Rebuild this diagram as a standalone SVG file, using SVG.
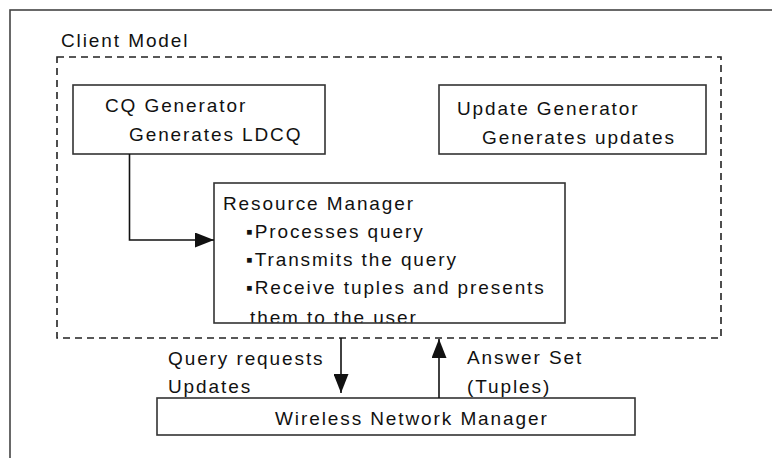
<svg xmlns="http://www.w3.org/2000/svg" width="772" height="458" viewBox="0 0 772 458">
<style>
text{font-family:"Liberation Sans",Arial,sans-serif;font-size:19px;letter-spacing:1.9px;fill:#111}
.box{fill:#fff;stroke:#333;stroke-width:1.6}
.conn{fill:none;stroke:#111;stroke-width:1.6}
</style>
<defs>
<marker id="ah" markerUnits="userSpaceOnUse" markerWidth="19" markerHeight="15" refX="19" refY="7.5" orient="auto">
<path d="M0,0 L19,7.5 L0,15 Z" fill="#111"/>
</marker>
<clipPath id="rmclip"><rect x="214" y="183" width="351" height="139.5"/></clipPath>
</defs>
<rect width="772" height="458" fill="#fff"/>
<rect x="10" y="10" width="800" height="500" fill="none" stroke="#444" stroke-width="1.6"/>
<g id="client-model">
<rect x="57" y="57" width="664" height="281" fill="none" stroke="#222" stroke-width="1.6" stroke-dasharray="7 5"/>
<text x="61" y="47">Client Model</text>
</g>
<g id="cq-generator">
<rect class="box" x="73" y="85" width="252" height="69"/>
<text x="105" y="112">CQ Generator</text>
<text x="129" y="141">Generates LDCQ</text>
</g>
<g id="update-generator">
<rect class="box" x="439" y="85" width="267" height="69"/>
<text x="457" y="115">Update Generator</text>
<text x="482" y="144">Generates updates</text>
</g>
<g id="resource-manager">
<rect class="box" x="214" y="183" width="351" height="140"/>
<g clip-path="url(#rmclip)">
<text x="223" y="210">Resource Manager</text>
<text x="246" y="238">▪Processes query</text>
<text x="246" y="266">▪Transmits the query</text>
<text x="246" y="294">▪Receive tuples and presents</text>
<text x="250" y="324">them to the user</text>
</g>
</g>
<g id="wireless-network-manager">
<rect class="box" x="157" y="398" width="478" height="37"/>
<text x="275" y="425">Wireless Network Manager</text>
</g>
<g id="connectors">
<path class="conn" d="M129.5,154 V240 H214" marker-end="url(#ah)"/>
<path class="conn" d="M341,338 V393" marker-end="url(#ah)"/>
<path class="conn" d="M439,398 V339" marker-end="url(#ah)"/>
<text x="168" y="365">Query requests</text>
<text x="168" y="393">Updates</text>
<text x="467" y="364">Answer Set</text>
<text x="467" y="393">(Tuples)</text>
</g>
</svg>
